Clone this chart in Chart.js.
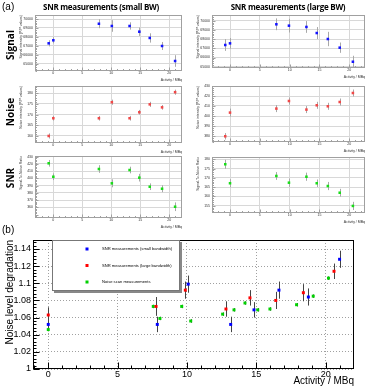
<!DOCTYPE html>
<html>
<head>
<meta charset="utf-8">
<script src="https://cdn.jsdelivr.net/npm/chart.js@4.4.1/dist/chart.umd.min.js"></script>
<style>
  body { margin: 0; background: #fff; }
  #page { position: relative; width: 367px; height: 387px; overflow: hidden; font-family: 'Liberation Sans', Arial, sans-serif; }
  #page canvas { position: absolute; }
  .txt { position: absolute; white-space: nowrap; color: #000; line-height: 1; z-index: 2; }
  .ttl { font-family: 'Open Sans', sans-serif; font-weight: 700; font-size: 8px; letter-spacing: -0.25px; transform: translateX(-50%); }
  .row { font-family: 'Open Sans', sans-serif; font-weight: 700; font-size: 10px; transform: translate(-50%, -50%) rotate(-90deg); }
</style>
</head>
<body>
<div id="page">
  <div class="txt" style="left:2px; top:2px; font-size:10px;">(a)</div>
  <div class="txt ttl" style="left:101px; top:3px;">SNR measurements (small BW)</div>
  <div class="txt ttl" style="left:288px; top:3px;">SNR measurements (large BW)</div>
  <div class="txt row" style="left:10px; top:45px;">Signal</div>
  <div class="txt row" style="left:10px; top:112px;">Noise</div>
  <div class="txt row" style="left:10px; top:178px;">SNR</div>
  <div class="txt" style="left:2px; top:225px; font-size:10px;">(b)</div>

  <canvas id="sigSmall"></canvas>
  <canvas id="sigLarge"></canvas>
  <canvas id="noiseSmallC"></canvas>
  <canvas id="noiseLargeC"></canvas>
  <canvas id="snrSmallC"></canvas>
  <canvas id="snrLargeC"></canvas>
  <canvas id="degradation"></canvas>
</div>

<script>
// activity of the measurements (MBq), first point = reference run
const activitySmall = [-0.8, 0, 7.86, 10.09, 13.15, 14.83, 16.63, 18.75, 21.0];
const activityLarge = [-0.8, 0, 7.77, 9.88, 12.81, 14.54, 16.4, 18.39, 20.6];

// signal intensity (P/P values)
const signalSmall = [67280, 67620, 69470, 69220, 69220, 68580, 67880, 66980, 65300];
const signalSmallErr = [340, 340, 500, 650, 410, 470, 520, 450, 650];
const signalLarge = [67360, 67540, 69610, 69460, 69320, 68660, 68010, 67070, 65540];
const signalLargeErr = [640, 580, 640, 740, 640, 650, 780, 560, 650];

// noise intensity (P/P values)
const noiseSmall = [160.0, 168.3, 168.3, 175.8, 168.3, 171.1, 174.8, 173.4, 180.5];
const noiseSmallErr = [1.2, 1.1, 1.1, 1.2, 1.1, 1.1, 1.2, 1.1, 1.2];
const noiseLarge = [379.7, 403.4, 407.4, 415.0, 406.4, 410.7, 409.7, 414.0, 423.0];
const noiseLargeErr = [3.2, 4.0, 3.5, 3.5, 3.5, 3.5, 3.5, 3.5, 3.5];

// signal to noise ratio
const snrSmall = [420.9, 402.3, 413.0, 393.2, 411.6, 401.0, 388.5, 385.7, 360.8];
const snrSmallErr = [4.6, 4.6, 5.3, 5.5, 4.6, 5.3, 4.6, 4.8, 6.0];
const snrLarge = [177.3, 167.1, 171.0, 167.4, 170.6, 167.1, 165.6, 162.0, 154.9];
const snrLargeErr = [2.4, 2.2, 2.1, 2.2, 2.2, 2.0, 2.2, 2.1, 2.2];

// (b) noise level degradation
const degSmallX = [0, 7.86, 10.09, 13.15, 14.83, 16.63, 18.75, 21.0];
const degSmall = [1.052, 1.052, 1.099, 1.052, 1.069, 1.092, 1.084, 1.128];
const degSmallErr = [0.005, 0.009, 0.01, 0.009, 0.009, 0.01, 0.01, 0.01];
const degLargeX = [0, 7.77, 9.88, 12.81, 14.54, 16.4, 18.39, 20.6];
const degLarge = [1.063, 1.073, 1.092, 1.070, 1.083, 1.080, 1.089, 1.114];
const degLargeErr = [0.009, 0.011, 0.01, 0.009, 0.009, 0.01, 0.01, 0.009];
const scanX = [0, 7.57, 8.05, 9.62, 10.27, 12.57, 13.39, 14.18, 15.1, 15.98, 17.9, 19.1, 20.2];
const scan = [1.046, 1.073, 1.059, 1.073, 1.056, 1.064, 1.069, 1.077, 1.069, 1.070, 1.075, 1.085, 1.106];
const scanErr = [0.002, 0.002, 0.002, 0.002, 0.002, 0.002, 0.002, 0.002, 0.002, 0.002, 0.002, 0.002, 0.002];

// tick values
const xTicks = [0, 5, 10, 15, 20];
const signalTicks = [65000, 66000, 67000, 68000, 69000, 70000];
const noiseSmallTicks = [160, 165, 170, 175, 180];
const noiseLargeTicks = [380, 390, 400, 410, 420, 430];
const snrSmallTicks = [360, 370, 380, 390, 400, 410, 420, 430];
const snrLargeTicks = [155, 160, 165, 170, 175, 180];
const degTicks = [1, 1.02, 1.04, 1.06, 1.08, 1.1, 1.12, 1.14];

// texts
const xTitle = 'Activity / MBq';
const legendLabels = ['SNR measurements (small bandwidth)', 'SNR measurements (large bandwidth)', 'Noise scan measurements'];


// vertical error bars, drawn under the markers
const errorBars = {
  id: 'errorBars',
  beforeDatasetsDraw(chart) {
    const {ctx, scales: {x, y}} = chart;
    ctx.save();
    chart.data.datasets.forEach(ds => {
      if (!ds.errors) return;
      ctx.strokeStyle = ds.errorColor;
      ctx.lineWidth = 1;
      ctx.beginPath();
      ds.data.forEach((p, i) => {
        const px = Math.round(x.getPixelForValue(p.x)) + 0.5;
        ctx.moveTo(px, y.getPixelForValue(p.y - ds.errors[i]));
        ctx.lineTo(px, y.getPixelForValue(p.y + ds.errors[i]));
      });
      ctx.stroke();
    });
    ctx.restore();
  }
};

// ROOT like frame with small ticks inside
const rootFrame = {
  id: 'rootFrame',
  afterDatasetsDraw(chart, args, o) {
    const {ctx, chartArea: a, scales: {x, y}} = chart;
    const l = Math.round(a.left) + 0.5, t = Math.round(a.top) + 0.5;
    const r = Math.round(a.right) - 0.5, b = Math.round(a.bottom) - 0.5;
    ctx.save();
    ctx.strokeStyle = o.color;
    ctx.lineWidth = 1;
    ctx.beginPath();
    const isMajor = (v, major) => Math.abs(v / major - Math.round(v / major)) < 1e-6;
    for (let k = Math.ceil(x.min / o.xMinor); k * o.xMinor <= x.max; k++) {
      const v = k * o.xMinor;
      const px = Math.round(x.getPixelForValue(v)) + 0.5;
      ctx.moveTo(px, b);
      ctx.lineTo(px, b - (isMajor(v, o.xMajor) ? o.majorLen : o.minorLen));
    }
    for (let k = Math.ceil(y.min / o.yMinor - 1e-9); k * o.yMinor <= y.max + 1e-9; k++) {
      const v = k * o.yMinor;
      const py = Math.round(y.getPixelForValue(v)) + 0.5;
      ctx.moveTo(l, py);
      ctx.lineTo(l + (isMajor(v, o.yMajor) ? o.majorLen : o.minorLen), py);
    }
    ctx.stroke();
    ctx.strokeRect(l, t, r - l, b - t);
    ctx.restore();
  }
};

// legend box with shadow, placed inside the plot
const rootLegend = {
  id: 'rootLegend',
  afterDraw(chart, args, o) {
    if (!o.show) return;
    const {ctx, chartArea: a} = chart;
    const x0 = Math.round(a.left) + o.x, y0 = Math.round(a.top) + o.y;
    ctx.save();
    ctx.fillStyle = '#888';
    ctx.fillRect(x0 + 2, y0 + 2, o.w, o.h);
    ctx.fillStyle = '#fff';
    ctx.fillRect(x0, y0, o.w, o.h);
    ctx.strokeStyle = '#777';
    ctx.lineWidth = 1;
    ctx.strokeRect(x0 + 0.5, y0 + 0.5, o.w - 1, o.h - 1);
    ctx.font = o.font;
    ctx.textBaseline = 'middle';
    chart.data.datasets.forEach((ds, i) => {
      const yy = y0 + o.rowTop + i * o.rowStep;
      ctx.fillStyle = ds.pointBackgroundColor;
      ctx.fillRect(x0 + o.markX - 1.5, yy - 1.5, 3, 3);
      ctx.fillStyle = '#000';
      ctx.fillText(ds.label, x0 + o.textX, yy);
    });
    ctx.restore();
  }
};

const topStyle = {
  yW: 21, xH: 12, padT: 6, padR: 8,
  tickFont: {family: 'Liberation Sans', size: 3.5},
  xTitleFont: {family: 'Liberation Sans', size: 3.5},
  yTitleFont: {family: 'Liberation Sans', size: 3.5},
  textColor: '#333', grid: '#d8d8d8', dash: [], frame: '#a0a0a0', errColor: '#a8a8a8',
  yTickPad: 2, xTickPad: 0, xTitlePad: 1, yTitlePad: 5,
  mark: 1.8, majorLen: 3, minorLen: 1.5
};

const bigStyle = {
  yW: 33, xH: 18, padT: 8, padR: 13,
  tickFont: {family: 'Liberation Sans', size: 9},
  xTitleFont: {family: 'Liberation Sans', size: 10},
  yTitleFont: {family: 'Liberation Sans', size: 10},
  textColor: '#000', grid: '#a0a0a0', dash: [1, 2], frame: '#000', errColor: '#444',
  yTickPad: 2, xTickPad: 0, xTitlePad: 0, yTitlePad: 4,
  mark: 2.1, majorLen: 6, minorLen: 3
};

const makePanel = (id, c) => {
  const st = c.style;
  const el = document.getElementById(id);
  const w = st.yW + (c.box.r - c.box.l) + st.padR;
  const h = st.padT + (c.box.b - c.box.t) + st.xH;
  el.width = w;
  el.height = h;
  el.style.left = (c.box.l - st.yW) + 'px';
  el.style.top = (c.box.t - st.padT) + 'px';

  return new Chart(el, {
    type: 'scatter',
    data: {
      datasets: c.sets.map(s => ({
        label: s.label,
        data: s.x.map((v, i) => ({x: v, y: s.y[i]})),
        errors: s.err,
        errorColor: st.errColor,
        pointStyle: 'rect',
        pointRadius: st.mark,
        pointBackgroundColor: s.color,
        pointBorderWidth: 0,
        clip: false
      }))
    },
    options: {
      responsive: false,
      animation: false,
      events: [],
      layout: {autoPadding: false, padding: {left: 0, top: st.padT, right: st.padR, bottom: 0}},
      scales: {
        x: {
          type: 'linear', min: c.xMin, max: c.xMax,
          afterFit: s => { s.height = st.xH },
          afterBuildTicks: s => { s.ticks = xTicks.map(v => ({value: v})) },
          grid: {color: st.grid, lineWidth: 1, drawTicks: false},
          border: {display: false, dash: st.dash},
          ticks: {font: st.tickFont, color: st.textColor, padding: st.xTickPad, maxRotation: 0, autoSkip: false, callback: v => String(v)},
          title: {display: true, text: xTitle, align: 'end', font: st.xTitleFont, color: st.textColor, padding: {top: 0, bottom: st.xTitlePad}}
        },
        y: {
          type: 'linear', min: c.yMin, max: c.yMax,
          afterFit: s => { s.width = st.yW },
          afterBuildTicks: s => { s.ticks = c.yTicks.map(v => ({value: v})) },
          grid: {color: st.grid, lineWidth: 1, drawTicks: false},
          border: {display: false, dash: st.dash},
          ticks: {font: st.tickFont, color: st.textColor, padding: st.yTickPad, autoSkip: false, callback: v => String(v)},
          title: {display: true, text: c.yTitle, align: 'end', font: st.yTitleFont, color: st.textColor, padding: {top: st.yTitlePad, bottom: 0}}
        }
      },
      plugins: {
        legend: {display: false},
        tooltip: {enabled: false},
        rootFrame: {color: st.frame, xMinor: 1, xMajor: 5, yMinor: c.yMinor, yMajor: c.yMajor, majorLen: st.majorLen, minorLen: st.minorLen},
        rootLegend: c.legend || {show: false}
      }
    },
    plugins: [errorBars, rootFrame, rootLegend]
  });
};

// (a) left column: small bandwidth, right column: large bandwidth
makePanel('sigSmall', {
  style: topStyle, box: {l: 35, t: 15, r: 182, b: 71},
  xMin: -3.16, xMax: 22.19, yMin: 64180, yMax: 70450, yTicks: signalTicks, yMinor: 200, yMajor: 1000,
  yTitle: 'Signal intensity (P/P values)',
  sets: [{x: activitySmall, y: signalSmall, err: signalSmallErr, color: '#1414ff'}]
});
makePanel('sigLarge', {
  style: topStyle, box: {l: 212, t: 15, r: 365, b: 68},
  xMin: -3.02, xMax: 22.63, yMin: 64860, yMax: 70620, yTicks: signalTicks, yMinor: 200, yMajor: 1000,
  yTitle: 'Signal intensity (P/P values)',
  sets: [{x: activityLarge, y: signalLarge, err: signalLargeErr, color: '#1414ff'}]
});
makePanel('noiseSmallC', {
  style: topStyle, box: {l: 35, t: 86, r: 182, b: 143},
  xMin: -3.16, xMax: 22.19, yMin: 156.7, yMax: 183.4, yTicks: noiseSmallTicks, yMinor: 1, yMajor: 5,
  yTitle: 'Noise intensity (P/P values)',
  sets: [{x: activitySmall, y: noiseSmall, err: noiseSmallErr, color: '#f04848'}]
});
makePanel('noiseLargeC', {
  style: topStyle, box: {l: 212, t: 86, r: 365, b: 142},
  xMin: -3.02, xMax: 22.63, yMin: 374, yMax: 430, yTicks: noiseLargeTicks, yMinor: 2, yMajor: 10,
  yTitle: 'Noise intensity (P/P values)',
  sets: [{x: activityLarge, y: noiseLarge, err: noiseLargeErr, color: '#f04848'}]
});
makePanel('snrSmallC', {
  style: topStyle, box: {l: 35, t: 156, r: 182, b: 218},
  xMin: -3.16, xMax: 22.19, yMin: 345.2, yMax: 431, yTicks: snrSmallTicks, yMinor: 2, yMajor: 10,
  yTitle: 'Signal-To-Noise Ratio',
  sets: [{x: activitySmall, y: snrSmall, err: snrSmallErr, color: '#18dc18'}]
});
makePanel('snrLargeC', {
  style: topStyle, box: {l: 212, t: 157, r: 365, b: 213},
  xMin: -3.02, xMax: 22.63, yMin: 151.1, yMax: 181.2, yTicks: snrLargeTicks, yMinor: 1, yMajor: 5,
  yTitle: 'Signal-To-Noise Ratio',
  sets: [{x: activityLarge, y: snrLarge, err: snrLargeErr, color: '#18dc18'}]
});

// (b) noise level degradation vs activity
makePanel('degradation', {
  style: bigStyle, box: {l: 33, t: 240, r: 354, b: 369},
  xMin: -1.1, xMax: 22.04, yMin: 1, yMax: 1.1505, yTicks: degTicks, yMinor: 0.004, yMajor: 0.02,
  yTitle: 'Noise level degradation',
  sets: [
    {label: legendLabels[0], x: degSmallX, y: degSmall, err: degSmallErr, color: '#0000ff'},
    {label: legendLabels[1], x: degLargeX, y: degLarge, err: degLargeErr, color: '#ff0000'},
    {label: legendLabels[2], x: scanX, y: scan, err: scanErr, color: '#00d000'}
  ],
  legend: {show: true, x: 19, y: 0, w: 128, h: 51, markX: 35, textX: 50, rowTop: 9, rowStep: 16.5,
           font: '4.1px "Liberation Sans"'}
});
</script>
</body>
</html>
